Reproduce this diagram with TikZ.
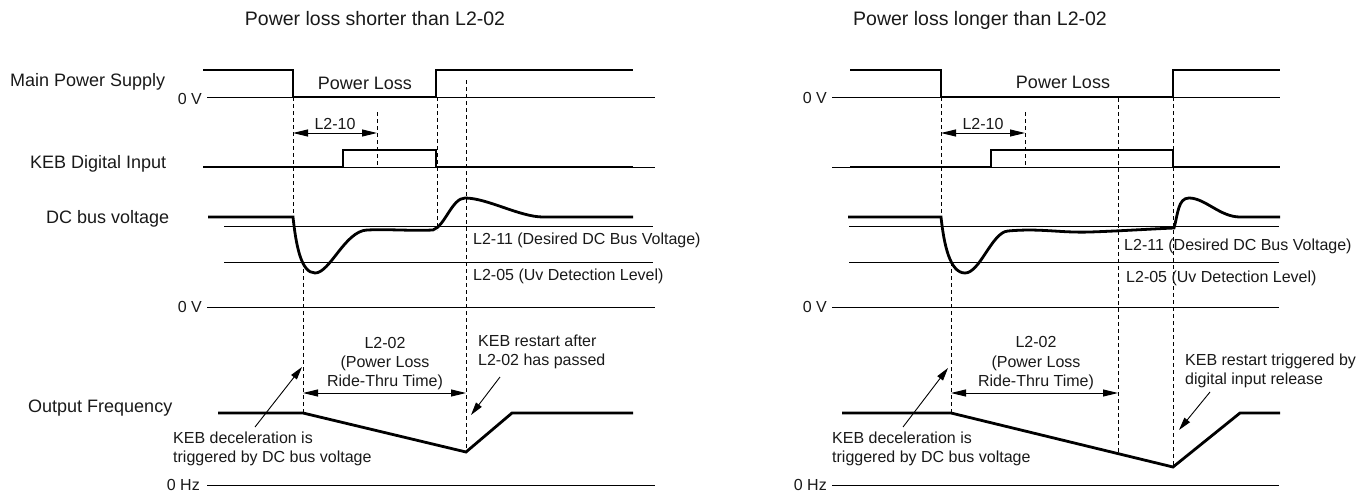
\documentclass[tikz,border=0pt]{standalone}
\usepackage{fontspec}
\setmainfont{Liberation Sans}
\usetikzlibrary{arrows.meta}
\begin{document}
\begin{tikzpicture}[x=1pt,y=-1pt,
  sig/.style={line width=2.8pt, line join=miter, line cap=butt},
  baseln/.style={line width=1pt},
  dsh/.style={line width=0.9pt, dash pattern=on 4pt off 3pt},
  dimarr/.style={line width=1pt, {Triangle[length=15pt,width=7pt]}-{Triangle[length=15pt,width=7pt]}},
  callout/.style={line width=0.9pt, -{Triangle[length=13pt,width=7pt]}},
  big/.style={font=\fontsize{18}{21}\selectfont, inner sep=0pt, text=black!90},
  small/.style={font=\fontsize{16}{19}\selectfont, inner sep=0pt, text=black!90},
  ttl/.style={font=\fontsize{19.5}{23}\selectfont, inner sep=0pt, text=black!90},
]
\useasboundingbox (0,0) rectangle (1371,493);

% ---------------- titles ----------------
\node[ttl, anchor=base] (t1) at (375,25) {Power loss shorter than L2-02};
\node[ttl, anchor=base] (t2) at (980,25) {Power loss longer than L2-02};

% ---------------- row labels ----------------
\node[big, anchor=base west] (lmain) at (10,86) {Main Power Supply};
\node[big, anchor=base west] (lkeb) at (30,168) {KEB Digital Input};
\node[big, anchor=base west] (ldc) at (46,223) {DC bus voltage};
\node[big, anchor=base west] (lout) at (28,412) {Output Frequency};

% ================= LEFT PANEL =================
% dashed markers
\draw[dsh] (293,97) -- (293,217);
\draw[dsh] (303,262) -- (303,413);
\draw[dsh] (377,112) -- (377,167);
\draw[dsh] (437,97) -- (437,230);
\draw[dsh] (466,80) -- (466,452);

% thin reference lines
\draw[baseln] (207,97) -- (655,97);
\draw[baseln] (203,167) -- (655,167);
\draw[baseln] (224,226) -- (653,226);
\draw[baseln] (224,262) -- (653,262);
\draw[baseln] (207,307) -- (655,307);
\draw[baseln] (207,485) -- (655,485);

% signals
\draw[sig] (203,70) -- (293,70) -- (293,97) -- (436,97) -- (436,70) -- (633,70);
\draw[sig] (203,167) -- (343,167) -- (343,150) -- (436,150) -- (436,167) -- (633,167);
\draw[sig] (208,217) -- (293,217) .. controls (296,245) and (301,273) .. (315,273)
  .. controls (330,273) and (345,231) .. (367,230)
  .. controls (390,229) and (410,231) .. (433,230)
  .. controls (445,226) and (452,198) .. (465,198)
  .. controls (487,198) and (520,217) .. (543,217) -- (633,217);
\draw[sig] (218,413) -- (303,413) -- (466,452) -- (512,413) -- (633,413);

% level labels
\node[small, anchor=east] (z1) at (202,99) {0 V};
\node[small, anchor=east] (z2) at (202,307) {0 V};
\node[small, anchor=east] (z3) at (200,485) {0 Hz};
\node[big, anchor=base] (pl1) at (365,89) {Power Loss};
\node[small, anchor=base west] (l11a) at (473,244) {L2-11 (Desired DC Bus Voltage)};
\node[small, anchor=base west] (l05a) at (473,280) {L2-05 (Uv Detection Level)};

% L2-10
\coordinate (a10s) at (293,133);
\coordinate (a10e) at (377,133);
\draw[dimarr] (a10s) -- (a10e);
\node[small, anchor=base] (l10a) at (335,129) {L2-10};

% L2-02
\coordinate (a02s) at (303,393);
\coordinate (a02e) at (466,393);
\draw[dimarr] (a02s) -- (a02e);
\node[small, anchor=base] (l02a1) at (385,348) {L2-02};
\node[small, anchor=base] (l02a2) at (385,367) {(Power Loss};
\node[small, anchor=base] (l02a3) at (385,386) {Ride-Thru Time)};

% callouts
\node[small, anchor=base west] (ra1) at (478,346) {KEB restart after};
\node[small, anchor=base west] (ra2) at (478,365) {L2-02 has passed};
\coordinate (ca1s) at (500,377);
\coordinate (ca1e) at (471,415);
\draw[callout] (ca1s) -- (ca1e);

\node[small, anchor=base west] (da1) at (173,443) {KEB deceleration is};
\node[small, anchor=base west] (da2) at (173,462) {triggered by DC bus voltage};
\coordinate (cd1s) at (255,427);
\coordinate (cd1e) at (302,367);
\draw[callout] (cd1s) -- (cd1e);

% ================= RIGHT PANEL =================
\draw[dsh] (941,97) -- (941,217);
\draw[dsh] (951,262) -- (951,413);
\draw[dsh] (1025,112) -- (1025,167);
\draw[dsh] (1118,98) -- (1118,453);
\draw[dsh] (1173,97) -- (1173,467);

\draw[baseln] (832,97) -- (1280,97);
\draw[baseln] (832,167) -- (1280,167);
\draw[baseln] (849,226) -- (1279,226);
\draw[baseln] (849,262) -- (1279,262);
\draw[baseln] (832,307) -- (1279,307);
\draw[baseln] (832,485) -- (1279,485);

\draw[sig] (850,70) -- (941,70) -- (941,97) -- (1173,97) -- (1173,70) -- (1280,70);
\draw[sig] (850,167) -- (991,167) -- (991,150) -- (1173,150) -- (1173,167) -- (1280,167);
\draw[sig] (848,217) -- (941,217) .. controls (944,245) and (950,273) .. (965,273)
  .. controls (980,273) and (992,232) .. (1008,231)
  .. controls (1040,228) and (1060,233) .. (1090,232)
  .. controls (1120,231) and (1150,229) .. (1174,228)
  .. controls (1178,214) and (1178,198) .. (1189,198)
  .. controls (1205,198) and (1220,217) .. (1240,217) -- (1280,217);
\draw[sig] (842,413) -- (951,413) -- (1173,467) -- (1240,413) -- (1280,413);

\node[small, anchor=east] (z4) at (827,98) {0 V};
\node[small, anchor=east] (z5) at (827,307) {0 V};
\node[small, anchor=east] (z6) at (827,485) {0 Hz};
\node[big, anchor=base] (pl2) at (1063,88) {Power Loss};
\node[small, anchor=base west] (l11b) at (1124,250) {L2-11 (Desired DC Bus Voltage)};
\node[small, anchor=base west] (l05b) at (1126,282) {L2-05 (Uv Detection Level)};

\coordinate (b10s) at (941,133);
\coordinate (b10e) at (1025,133);
\draw[dimarr] (b10s) -- (b10e);
\node[small, anchor=base] (l10b) at (983,129) {L2-10};

\coordinate (b02s) at (951,393);
\coordinate (b02e) at (1118,393);
\draw[dimarr] (b02s) -- (b02e);
\node[small, anchor=base] (l02b1) at (1036,347) {L2-02};
\node[small, anchor=base] (l02b2) at (1036,367) {(Power Loss};
\node[small, anchor=base] (l02b3) at (1036,386) {Ride-Thru Time)};

\node[small, anchor=base west] (rb1) at (1185,365) {KEB restart triggered by};
\node[small, anchor=base west] (rb2) at (1185,384) {digital input release};
\coordinate (cb1s) at (1210,392);
\coordinate (cb1e) at (1179,430);
\draw[callout] (cb1s) -- (cb1e);

\node[small, anchor=base west] (db1) at (832,443) {KEB deceleration is};
\node[small, anchor=base west] (db2) at (832,462) {triggered by DC bus voltage};
\coordinate (cd2s) at (903,427);
\coordinate (cd2e) at (948,368);
\draw[callout] (cd2s) -- (cd2e);
\end{tikzpicture}
\end{document}
